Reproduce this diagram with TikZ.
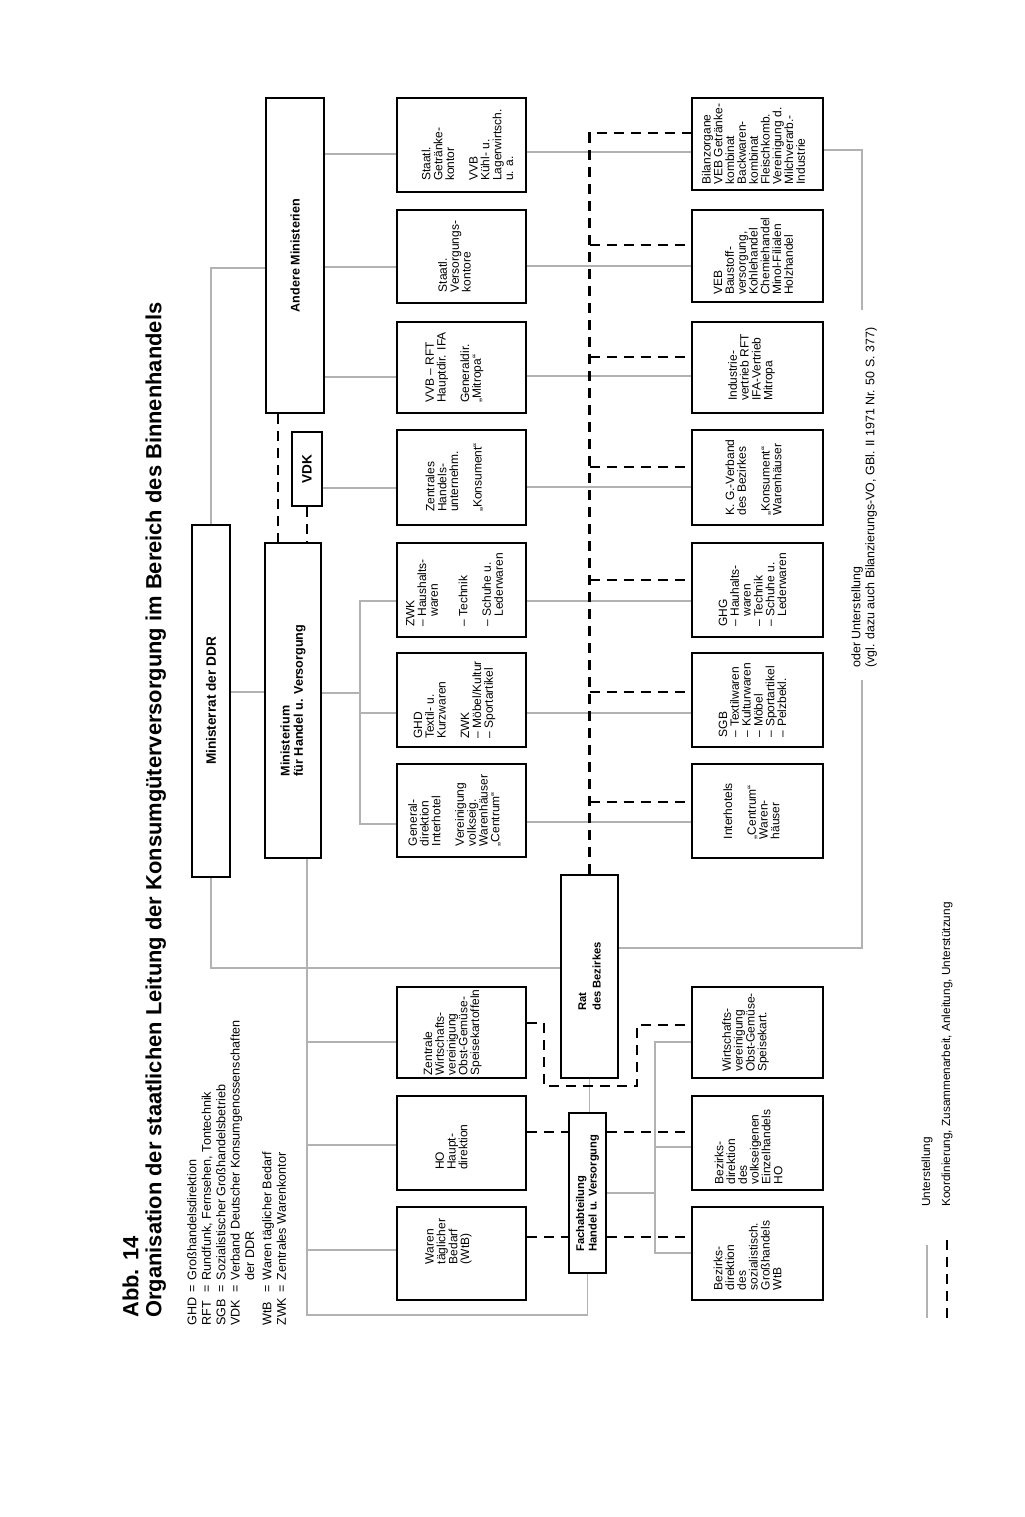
\documentclass[tikz,border=0pt]{standalone}
\usepackage{fontspec}
\setmainfont{Liberation Sans}
\usetikzlibrary{fit,calc}
\tikzset{
  bbox/.style={draw, line width=1.2pt, inner sep=0pt, rectangle},
  txt/.style={rotate=90, align=left, inner sep=0pt, font=\fontsize{6.0}{5.9}\selectfont},
  txtb/.style={rotate=90, align=left, inner sep=0pt},
  kz/.style={line width=1.2pt, dash pattern=on 5pt off 3.5pt},
  us/.style={line width=0.55pt, draw=black!30},
}
\newcommand\bx[5][(0,0)]{\node[bbox, fit={#3 #4}] (#2) {}; \node[txt] (#2t) at ($(#2.center)+#1$) {#5};}
\newcommand\bxb[5]{\node[bbox, fit={#2 #3}] (#1) {}; \node[txtb, font={#4}] (#1t) at (#1.center) {#5};}
\newcommand\dsh{\makebox[5.2pt][l]{–}}
\newcommand\ind{\hspace*{5.2pt}}
\begin{document}
\begin{tikzpicture}[x=0.5pt,y=-0.5pt]
\useasboundingbox (0,0) rectangle (1024,1517);
\fill[white] (0,0) rectangle (1024,1517);

% title and abbreviations
\node[rotate=90, anchor=north west, inner sep=0pt, align=left,
      font=\bfseries\fontsize{10.95}{11.6}\selectfont] (title) at (122,1318)
  {Abb. 14\\Organisation der staatlichen Leitung der Konsumgüterversorgung im Bereich des Binnenhandels};
\node[rotate=90, anchor=north west, inner sep=0pt,
      font=\fontsize{6.3}{7.2}\selectfont] (abbr) at (186,1326)
  {\begin{tabular}{@{}l@{\hspace{2.5pt}}l@{\hspace{2.5pt}}l@{}}
   GHD & = & Großhandelsdirektion\\
   RFT & = & Rundfunk, Fernsehen, Tontechnik\\
   SGB & = & Sozialistischer Großhandelsbetrieb\\
   VDK & = & Verband Deutscher Konsumgenossenschaften\\
       &   & der DDR\\[1.5pt]
   WtB & = & Waren täglicher Bedarf\\
   ZWK & = & Zentrales Warenkontor
   \end{tabular}};

% top boxes
\bxb{mr}{(192,525)}{(230,877)}{\bfseries\fontsize{6.8}{7}\selectfont}{Ministerrat der DDR}
\bxb{mhv}{(265,543)}{(321,858)}{\bfseries\fontsize{6.3}{6.6}\selectfont}{Ministerium\\für Handel u. Versorgung}
\bxb{vdk}{(292,432)}{(322,506)}{\bfseries\fontsize{6.8}{7}\selectfont}{VDK}
\bxb{am}{(266,98)}{(324,413)}{\bfseries\fontsize{6.3}{7}\selectfont}{Andere Ministerien}

% row 1
\bx[(6,0)]{r1a}{(397,98)}{(526,192)}{Staatl.\\Getränke-\\kontor\\[5.9pt]VVB\\Kühl- u.\\Lagerwirtsch.\\u. a.}
\bx[(-7,0)]{r1b}{(397,210)}{(526,303)}{Staatl.\\Versorgungs-\\kontore}
\bx[(-7,0)]{r1c}{(397,322)}{(526,413)}{VVB -- RFT\\Hauptdir. IFA\\[5.9pt]Generaldir.\\„Mitropa“}
\bx[(-7,0)]{r1d}{(397,430)}{(526,525)}{Zentrales\\Handels-\\unternehm.\\[5.9pt]„Konsument“}
\bx[(-7,0)]{r1e}{(397,543)}{(526,637)}{ZWK\\\dsh Haushalts-\\\ind waren\\[8.8pt]\dsh Technik\\[5.9pt]\dsh Schuhe u.\\\ind Lederwaren}
\bx[(-7,0)]{r1f}{(397,653)}{(526,747)}{GHD\\Textil- u.\\Kurzwaren\\[5.9pt]ZWK\\\dsh Möbel/Kultur\\\dsh Sportartikel}
\bx[(-7,0)]{r1g}{(397,764)}{(526,857)}{General-\\direktion\\Interhotel\\[5.9pt]Vereinigung\\volkseig.\\Warenhäuser\\„Centrum“}
\bx[(-9,0)]{r1h}{(397,987)}{(526,1078)}{Zentrale\\Wirtschafts-\\vereinigung\\Obst-Gemüse-\\Speisekartoffeln}
\bx[(-10,4)]{r1i}{(397,1096)}{(526,1190)}{HO\\Haupt-\\direktion}
\bx[(-13,-12)]{r1j}{(397,1207)}{(526,1300)}{Waren\\täglicher\\Bedarf\\(WtB)}

% row 2
\bx[(-4,0)]{r2a}{(692,98)}{(823,190)}{Bilanzorgane\\VEB Getränke-\\kombinat\\Backwaren-\\kombinat\\Fleischkomb.\\Vereinigung d.\\Milchverarb.-\\Industrie}
\bx[(-4,0)]{r2b}{(692,210)}{(823,302)}{VEB\\Baustoff-\\versorgung,\\Kohlehandel\\Chemiehandel\\Minol-Filialen\\Holzhandel}
\bx[(-6,0)]{r2c}{(692,322)}{(823,413)}{Industrie-\\vertrieb RFT\\IFA-Vertrieb\\Mitropa}
\bx[(-4,0)]{r2d}{(692,430)}{(823,525)}{K. G.-Verband\\des Bezirkes\\[5.9pt]„Konsument“\\Warenhäuser}
\bx[(-5,0)]{r2e}{(692,543)}{(823,637)}{GHG\\\dsh Hauhalts-\\\ind waren\\\dsh Technik\\\dsh Schuhe u.\\\ind Lederwaren}
\bx[(-5,0)]{r2f}{(692,653)}{(823,747)}{SGB\\\dsh Textilwaren\\\dsh Kulturwaren\\\dsh Möbel\\\dsh Sportartikel\\\dsh Pelzbekl.}
\bx[(-6,0)]{r2g}{(692,764)}{(823,858)}{Interhotels\\[5.9pt]„Centrum“\\Waren-\\häuser}
\bx[(-12,0)]{r2h}{(692,987)}{(823,1078)}{Wirtschafts-\\vereinigung\\Obst-Gemüse-\\Speisekart.}
\bx[(-9,4)]{r2i}{(692,1096)}{(823,1190)}{Bezirks-\\direktion\\des\\volkseigenen\\Einzelhandels\\HO}
\bx[(-10,2)]{r2j}{(692,1207)}{(823,1300)}{Bezirks-\\direktion\\des\\sozialistisch.\\Großhandels\\WtB}

% district
\bxb{rat}{(561,875)}{(618,1078)}{\bfseries\fontsize{5.6}{7.2}\selectfont}{Rat\\des Bezirkes}
\bxb{fach}{(569,1113)}{(606,1273)}{\bfseries\fontsize{5.6}{6.2}\selectfont}{Fachabteilung\\Handel u. Versorgung}

% note and legend
\node[rotate=90, anchor=north west, inner sep=0pt, align=left,
      font=\fontsize{6.2}{7}\selectfont] (note) at (851,668)
  {oder Unterstellung\\(vgl. dazu auch Bilanzierungs-VO, GBl. II 1971 Nr. 50 S. 377)};
\node[rotate=90, anchor=west, inner sep=0pt, font=\fontsize{5.9}{7}\selectfont] (lg1) at (927,1207) {Unterstellung};
\node[rotate=90, anchor=west, inner sep=0pt, font=\fontsize{5.9}{7}\selectfont] (lg2) at (947,1207) {Koordinierung, Zusammenarbeit, Anleitung, Unterstützung};
\coordinate (s1a) at (927,1245); \coordinate (s1b) at (927,1318);
\coordinate (s2a) at (947,1240); \coordinate (s2b) at (947,1318);
\draw[us] (s1a) -- (s1b);
\draw[kz] (s2a) -- (s2b);

% Unterstellung (grey)
\draw[us] (mr.north) -- (mr.north |- 0,268) -- (am.west |- 0,268);
\draw[us] (mr.east |- 0,692) -- (mhv.west |- 0,692);
\draw[us] (mr.south) -- (mr.south |- 0,968) -- (rat.west |- 0,968);
\draw[us] (am.east |- 0,154) -- (r1a.west |- 0,154);
\draw[us] (am.east |- 0,267) -- (r1b.west |- 0,267);
\draw[us] (am.east |- 0,377) -- (r1c.west |- 0,377);
\draw[us] (vdk.east |- 0,488) -- (r1d.west |- 0,488);
\draw[us] (mhv.east |- 0,693) -- (360,693);
\draw[us] (r1e.west |- 0,601) -| (360,824) -- (r1g.west |- 0,824);
\draw[us] (360,713) -- (r1f.west |- 0,713);
\foreach \y/\a/\b in {152/r1a/r2a,266/r1b/r2b,376/r1c/r2c,487/r1d/r2d,601/r1e/r2e,713/r1f/r2f,822/r1g/r2g}
  \draw[us] (\a.east |- 0,\y) -- (\b.west |- 0,\y);
\draw[us] (307,0 |- mhv.south) -- (307,1315) -| (fach.south);
\foreach \y/\b in {1042/r1h,1145/r1i,1250/r1j}
  \draw[us] (307,\y) -- (\b.west |- 0,\y);
\draw[us] (rat.south) -- (rat.south |- fach.north);
\draw[us] (fach.east |- 0,1193) -- (655,1193);
\draw[us] (r2h.west |- 0,1042) -| (655,1253) -- (r2j.west |- 0,1253);
\draw[us] (655,1147) -- (r2i.west |- 0,1147);
\draw[us] (rat.east |- 0,948) -- (862,948) -- (862,680);
\draw[us] (862,310) -- (862,150) -- (r2a.east |- 0,150);

% Koordinierung (dashed)
\draw[kz] (278,0 |- am.south) -- (278,0 |- mhv.north);
\draw[kz] (vdk.south) -- (vdk.south |- mhv.north);
\draw[kz] (rat.north) -- (rat.north |- 0,133) -- (r2a.west |- 0,133);
\foreach \y/\b in {245/r2b,357/r2c,467/r2d,580/r2e,692/r2f,802/r2g}
  \draw[kz] (rat.north |- 0,\y) -- (\b.west |- 0,\y);
\draw[kz] (r1h.east |- 0,1023) -- (544,1023) -- (544,1086) -- (637,1086) -- (637,1025) -- (r2h.west |- 0,1025);
\draw[kz] (r1i.east |- 0,1132) -- (fach.west |- 0,1132);
\draw[kz] (fach.east |- 0,1132) -- (r2i.west |- 0,1132);
\draw[kz] (r1j.east |- 0,1237) -- (fach.west |- 0,1237);
\draw[kz] (fach.east |- 0,1237) -- (r2j.west |- 0,1237);
\end{tikzpicture}
\end{document}
